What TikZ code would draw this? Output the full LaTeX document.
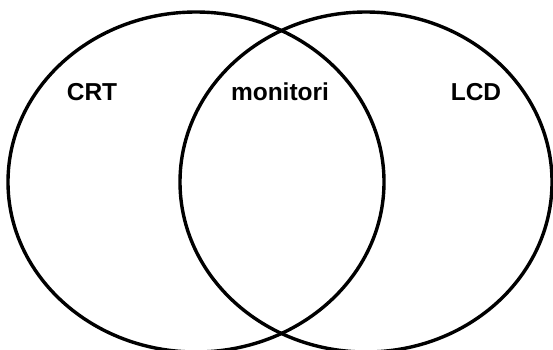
\documentclass[tikz,border=0pt]{standalone}
\usepackage{fontspec}
\setmainfont{Liberation Sans}

\begin{document}
\begin{tikzpicture}[
  x=1pt, y=-1pt,
  setline/.style={line width=3.4pt},
  setname/.style={anchor=base, inner sep=0pt, font=\bfseries\fontsize{24.5}{28}\selectfont}
]

\useasboundingbox (0,0) rectangle (553,349);

\draw [setline] (196,182) ellipse [x radius=188, y radius=170];
\draw [setline] (366,182) ellipse [x radius=186, y radius=170];

\node [setname] (crt) at (92,100.5) {CRT};
\node [setname] (monitori) at (280,100.5) {monitori};
\node [setname] (lcd) at (476,100.5) {LCD};

\end{tikzpicture}
\end{document}
